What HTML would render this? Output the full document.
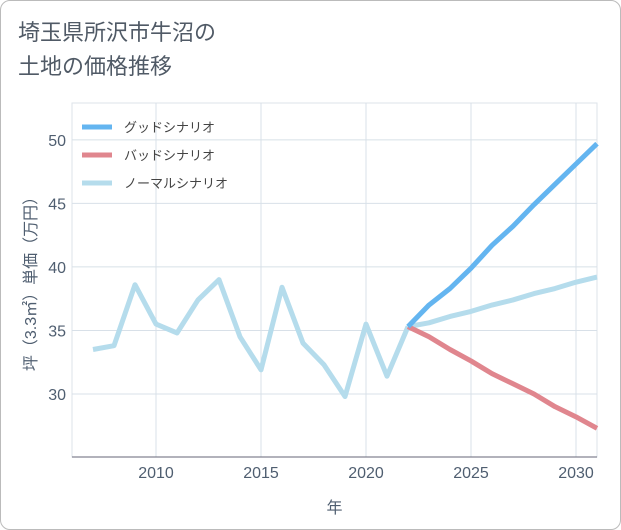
<!DOCTYPE html>
<html><head><meta charset="utf-8"><style>
body{margin:0;background:#fff;font-family:"Liberation Sans","Noto Sans CJK JP",sans-serif;}
#wrap{position:relative;width:621px;height:530px;}
.frame{position:absolute;left:0;top:0;width:619px;height:528px;border:1px solid #bbb;border-radius:10px;}
.title{position:absolute;left:18px;top:16px;font-size:22px;line-height:34px;color:#505a66;}
</style></head><body>
<div id="wrap">
<div class="frame"></div>
<div class="title">埼玉県所沢市牛沼の<br>土地の価格推移</div>
<svg id="chart" width="621" height="530" style="position:absolute;left:0;top:0"></svg>
</div>
<script>
const histYears=[2007,2008,2009,2010,2011,2012,2013,2014,2015,2016,2017,2018,2019,2020,2021,2022];
const histValues=[33.5,33.8,38.6,35.5,34.8,37.4,39.0,34.5,31.9,38.4,34.0,32.3,29.8,35.5,31.4,35.3];
const futYears=[2022,2023,2024,2025,2026,2027,2028,2029,2030,2031];
const goodValues=[35.3,37.0,38.3,39.9,41.7,43.2,44.9,46.5,48.1,49.7];
const badValues=[35.3,34.5,33.5,32.6,31.6,30.8,30.0,29.0,28.2,27.3];
const normalValues=[35.3,35.6,36.1,36.5,37.0,37.4,37.9,38.3,38.8,39.2];
const xTicks=[2010,2015,2020,2025,2030];
const yTicks=[30,35,40,45,50];
const legendLabels=["グッドシナリオ","バッドシナリオ","ノーマルシナリオ"];
const legendColors=["#64b5f0","#e0868e","#b5dcec"];

const L=72,R=597,T=103,B=457,x0=2006,x1=2031,y0=25.04,y1=52.9;
const X=v=>L+(v-x0)/(x1-x0)*(R-L);
const Y=v=>B-(v-y0)/(y1-y0)*(B-T);
const svg=document.getElementById('chart');
const NS='http://www.w3.org/2000/svg';
function mk(tag,attrs,parent){const e=document.createElementNS(NS,tag);for(const k in attrs)e.setAttribute(k,attrs[k]);(parent||svg).appendChild(e);return e;}

let e=mk('rect',{x:L,y:T,width:R-L,height:B-T,fill:'none',stroke:'#dde3ea'});


xTicks.forEach(t=>{
 let g=mk('line',{x1:X(t),x2:X(t),y1:T,y2:B,stroke:'#d8e0e8','stroke-width':1});
 
 
 let tx=mk('text',{x:X(t),y:B+21,'text-anchor':'middle','font-size':16,fill:'#4f5e70'});
 tx.textContent=t;
 
 
});
yTicks.forEach(t=>{
 let g=mk('line',{x1:L,x2:R,y1:Y(t),y2:Y(t),stroke:'#d8e0e8','stroke-width':1});
 
 
 let tx=mk('text',{x:L-6,y:Y(t)+6,'text-anchor':'end','font-size':16,fill:'#4f5e70'});
 tx.textContent=t;
 
 
});
let ax=mk('line',{x1:L,x2:R,y1:B,y2:B,stroke:'#667'});


let xt=mk('text',{x:(L+R)/2,y:513,'text-anchor':'middle','font-size':16,fill:'#4f5e70'});
xt.textContent='年';


let yt=mk('text',{x:0,y:0,'text-anchor':'middle','font-size':16,fill:'#4f5e70',transform:`translate(36,${(T+B)/2}) rotate(-90)`});
yt.textContent='坪（3.3㎡）単価（万円）';



function line(xs,vs,color,name){
 const p=mk('polyline',{points:xs.map((x,i)=>X(x)+','+Y(vs[i])).join(' '),fill:'none',stroke:color,'stroke-width':5,'stroke-linejoin':'round'});
 
 
}
line(histYears,histValues,legendColors[2],'history-line');
line(futYears,normalValues,legendColors[2],'normal-scenario-line');
line(futYears,badValues,legendColors[1],'bad-scenario-line');
line(futYears,goodValues,legendColors[0],'good-scenario-line');

legendLabels.forEach((lab,i)=>{
 const y=127+i*28;
 let l=mk('line',{x1:82,x2:112,y1:y,y2:y,stroke:legendColors[i],'stroke-width':5});
 
 
 let t=mk('text',{x:124,y:y+5,'font-size':13,fill:'#444'});
 t.textContent=lab;
 
 
});
</script>
</body></html>
